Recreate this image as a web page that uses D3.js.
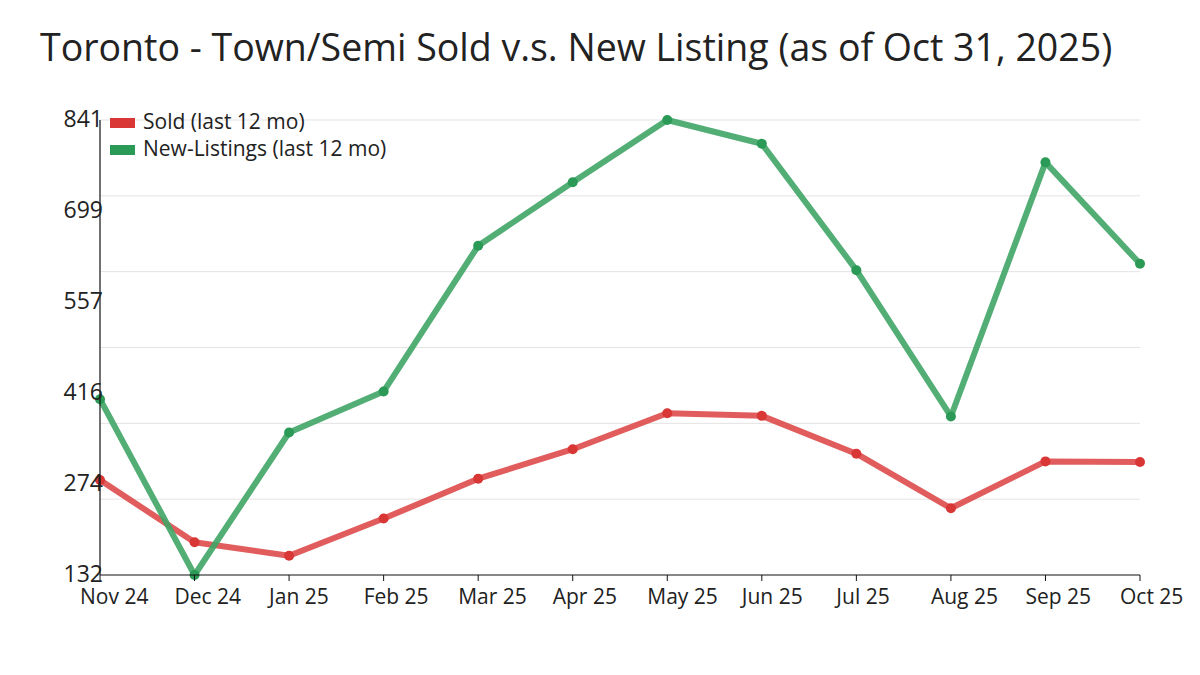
<!DOCTYPE html>
<html>
<head>
<meta charset="utf-8">
<script src="https://cdn.jsdelivr.net/npm/d3@7"></script>
<style>
  body { margin: 0; background: #fff; }
  text { font-family: "Open Sans", sans-serif; fill: #222; }
</style>
</head>
<body>
<div class="chart"></div>
<script>
const months = ["Nov 24", "Dec 24", "Jan 25", "Feb 25", "Mar 25", "Apr 25",
                "May 25", "Jun 25", "Jul 25", "Aug 25", "Sep 25", "Oct 25"];
const sold = [280, 183, 162, 220, 282, 328, 384, 380, 321, 236, 309, 308];
const newListings = [406, 132, 354, 418, 645, 744, 841, 804, 607, 379, 775, 617];
const yTickLabels = [132, 274, 416, 557, 699, 841];

const series = [
  {name: "Sold (last 12 mo)", values: sold, line: "#de4b4b", dot: "#d93636"},
  {name: "New-Listings (last 12 mo)", values: newListings, line: "#3fa566", dot: "#2b9a56"}
];

const W = 1200, H = 675;
const svg = d3.select(".chart").append("svg")
  .attr("width", W)
  .attr("height", H);

const x = d3.scalePoint().domain(months).range([100, 1140]);
const y = d3.scaleLinear().domain([132, 841]).range([575, 120]);

// title
svg.append("text")
  .attr("x", 40)
  .attr("y", 61)
  .style("font-size", "37.5px")
  .text("Toronto - Town/Semi Sold v.s. New Listing (as of Oct 31, 2025)");

// grid (evenly split, separate from tick labels)
const [y0, y1] = y.domain();
const gridVals = d3.range(7).map(i => y0 + i * (y1 - y0) / 6);
svg.append("g")
  .selectAll("line")
  .data(gridVals.slice(1))
  .join("line")
    .attr("x1", 100).attr("x2", 1140)
    .attr("y1", d => y(d)).attr("y2", d => y(d))
    .attr("stroke", "#e3e3e3")
    .attr("stroke-width", 1);

// lines + markers
const line = d3.line()
  .x((d, i) => x(months[i]))
  .y(d => y(d));

series.forEach(s => {
  svg.append("path")
    .datum(s.values)
    .attr("fill", "none")
    .attr("stroke", s.line)
    .attr("stroke-width", 6)
    .attr("stroke-opacity", 0.9)
    .attr("stroke-linejoin", "round")
    .attr("d", line);

  svg.append("g")
    .selectAll("circle")
    .data(s.values)
    .join("circle")
      .attr("cx", (d, i) => x(months[i]))
      .attr("cy", d => y(d))
      .attr("r", 5)
      .attr("fill", s.dot);
});

// x axis
const xAxis = svg.append("g").attr("transform", "translate(0,575)");
xAxis.append("line")
  .attr("x1", 100).attr("x2", 1140)
  .attr("stroke", "#111").attr("stroke-width", 1.2);
xAxis.selectAll(".tick")
  .data(months)
  .join("line")
    .attr("x1", d => x(d)).attr("x2", d => x(d))
    .attr("y1", 0).attr("y2", 6)
    .attr("stroke", "#111");
xAxis.selectAll("text")
  .data(months)
  .join("text")
    .attr("x", d => x(d) - 20)
    .attr("y", 29)
    .style("font-size", "21px")
    .text(d => d);

// y axis
svg.append("line")
  .attr("x1", 100).attr("x2", 100)
  .attr("y1", 120).attr("y2", 575)
  .attr("stroke", "#111").attr("stroke-width", 1.2);
svg.append("g")
  .selectAll("text")
  .data(yTickLabels)
  .join("text")
    .attr("x", 103)
    .attr("y", d => y(d) - 1)
    .attr("text-anchor", "end")
    .attr("dy", "0.35em")
    .style("font-size", "23px")
    .text(d => d);

// legend
const legend = svg.append("g").attr("transform", "translate(110,118)");
series.forEach((s, i) => {
  const g = legend.append("g").attr("transform", `translate(0,${i * 27})`);
  g.append("rect")
    .attr("width", 25).attr("height", 10)
    .attr("fill", s.dot);
  g.append("text")
    .attr("x", 33)
    .attr("y", 11)
    .style("font-size", "21px")
    .text(s.name);
});
</script>
</body>
</html>
